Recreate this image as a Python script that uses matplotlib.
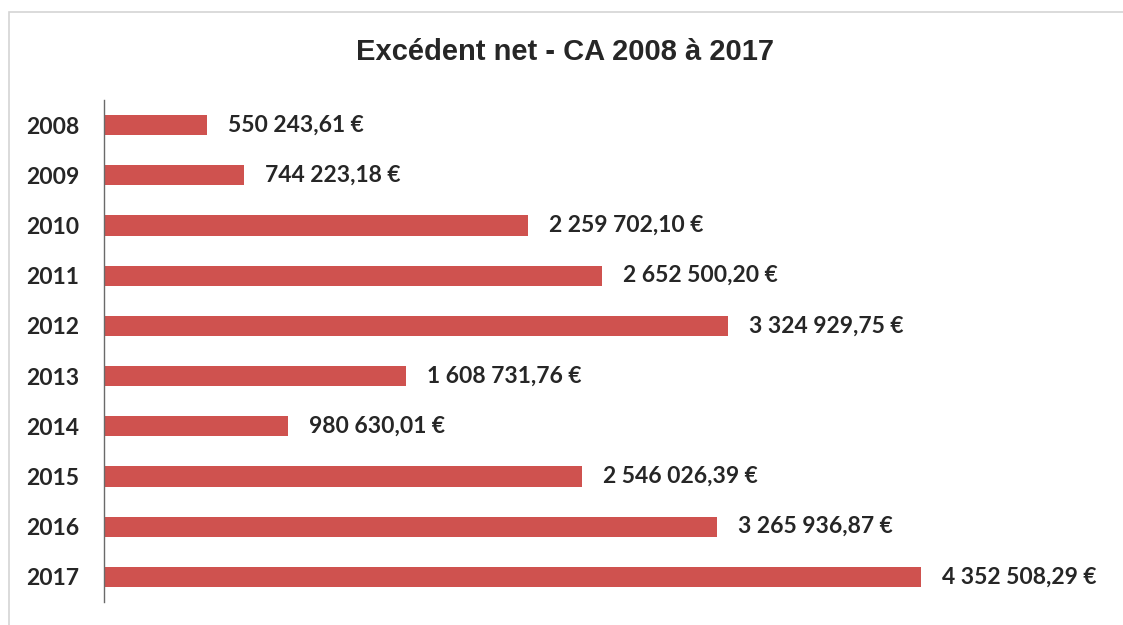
import matplotlib
matplotlib.use("Agg")
import matplotlib.pyplot as plt
from matplotlib.patches import Rectangle

# Excédent net par année
annees = ["2008", "2009", "2010", "2011", "2012", "2013", "2014", "2015", "2016", "2017"]
excedent = [550243.61, 744223.18, 2259702.10, 2652500.20, 3324929.75,
            1608731.76, 980630.01, 2546026.39, 3265936.87, 4352508.29]

bar_color = "#cf524f"
text_color = "#262626"


def fmt_euro(v):
    s = f"{v:,.2f}"
    s = s.replace(",", " ").replace(".", ",")
    return s + " €"


fig = plt.figure(figsize=(11.23, 6.25), dpi=100)
fig.patch.set_facecolor("white")

# cadre gris clair autour du graphique
fig.patches.append(Rectangle((9 / 1123, -0.05), 1.2, 1 - 12 / 625 + 0.05,
                             transform=fig.transFigure, fill=False,
                             edgecolor="#d4d4d4", linewidth=1.2))

ax = fig.add_axes([104 / 1123, 1 - 602 / 625, (1100 - 104) / 1123, 502 / 625])

y = range(len(annees))
ax.barh(y, excedent, height=0.4, color=bar_color)

for yi, v in zip(y, excedent):
    ax.annotate(fmt_euro(v), xy=(v, yi), xytext=(21, 0), textcoords="offset pixels",
                va="center", ha="left", fontsize=16.5, fontfamily="Lato",
                fontweight="bold", color=text_color)

ax.set_ylim(len(annees) - 0.5, -0.5)
ax.set_xlim(0, 4352508.29 * (1100 - 104) / (921 - 104))
ax.set_yticks(list(y))
ax.set_yticklabels(annees, fontsize=16.5, fontfamily="Lato", fontweight="bold",
                   color=text_color)
ax.tick_params(axis="y", length=0, pad=18)
ax.set_xticks([])

for side in ["top", "right", "bottom"]:
    ax.spines[side].set_visible(False)
ax.spines["left"].set_color("#6a6a6a")
ax.spines["left"].set_linewidth(1.0)

fig.text(565 / 1123, 1 - 52 / 625, "Excédent net - CA 2008 à 2017",
         ha="center", va="center", fontsize=21, fontfamily="Liberation Sans",
         fontweight="bold", color=text_color)

fig.savefig("out.png", dpi=100, facecolor="white")
